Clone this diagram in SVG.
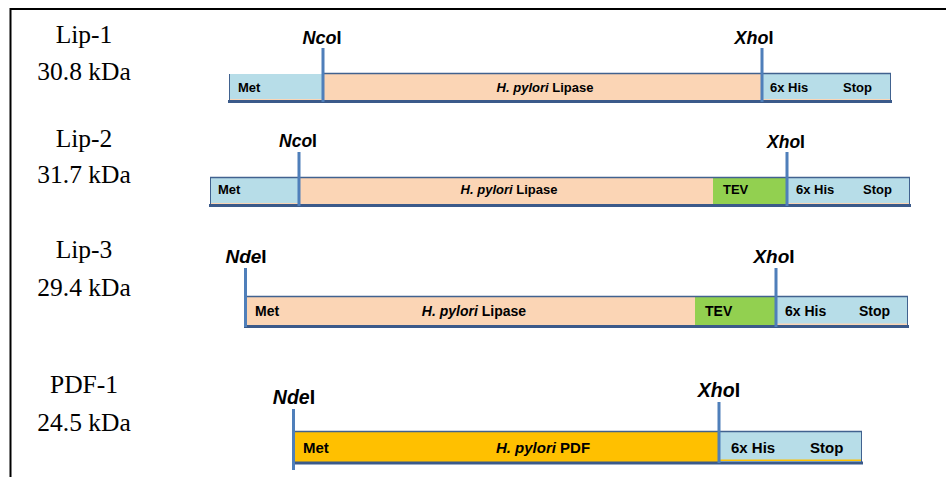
<svg xmlns="http://www.w3.org/2000/svg" width="946" height="477" viewBox="0 0 946 477">
<style>
.lbl{font-family:"Liberation Serif","Times New Roman",serif;font-size:25.5px;fill:#000;text-anchor:middle}
.seg{font-family:"Liberation Sans",Arial,sans-serif;font-weight:bold;fill:#000}
.s12{font-size:13px}
.s14{font-size:14px}
.s15{font-size:15px}
.mid{text-anchor:middle}
.site{font-family:"Liberation Sans",Arial,sans-serif;font-weight:bold;fill:#000;text-anchor:middle}
.it{font-style:italic}
.blue{fill:#b7dde8}
.peach{fill:#fbd5b5}
.tev{fill:#92d050}
.pdf{fill:#ffc000}
.top{stroke:#41628f;stroke-width:1.5;fill:none}
.bot{stroke:#3b5a8a;stroke-width:3;fill:none}
.edge{stroke:#41628f;stroke-width:1;fill:none}
.cut{stroke:#4f7fba;stroke-width:3;fill:none}
</style>
<rect x="0" y="0" width="946" height="477" fill="#fff"/>
<path d="M10.5,477 V9 H946" fill="none" stroke="#000" stroke-width="2"/>

<g id="labels">
<text class="lbl" x="84" y="43">Lip-1</text>
<text class="lbl" x="84" y="80">30.8 kDa</text>
<text class="lbl" x="84" y="147">Lip-2</text>
<text class="lbl" x="84" y="183">31.7 kDa</text>
<text class="lbl" x="84" y="258">Lip-3</text>
<text class="lbl" x="84" y="296">29.4 kDa</text>
<text class="lbl" x="84" y="393">PDF-1</text>
<text class="lbl" x="84" y="431">24.5 kDa</text>
</g>

<g id="lip1">
<rect class="blue" x="229" y="74" width="94" height="28"/>
<rect class="peach" x="323" y="74" width="439" height="28"/>
<rect class="blue" x="762" y="74" width="129" height="28"/>
<rect class="peach" x="229" y="99" width="94" height="1.5"/>
<rect class="peach" x="762" y="99" width="129" height="1.5"/>
<path class="top" d="M323,73.5 H891"/>
<path class="edge" d="M229.5,74 V102 M890.5,74 V102"/>
<path class="bot" d="M228,101.5 H892"/>
<path class="cut" d="M323,48 V102 M762,48 V102"/>
<text class="seg s12" x="238" y="92">Met</text>
<text class="seg s12 mid" x="545" y="92"><tspan class="it">H. pylori</tspan> Lipase</text>
<text class="seg s12" x="770" y="92">6x His</text>
<text class="seg s12" x="843" y="92">Stop</text>
<text class="site" x="322" y="44" font-size="18"><tspan class="it">Nco</tspan>I</text>
<text class="site" x="754" y="44" font-size="18"><tspan class="it">Xho</tspan>I</text>
</g>

<g id="lip2">
<rect class="blue" x="210" y="178" width="89" height="28"/>
<rect class="peach" x="299" y="178" width="414" height="28"/>
<rect class="tev" x="713" y="178" width="74" height="28"/>
<rect class="blue" x="787" y="178" width="123" height="28"/>
<rect class="peach" x="210" y="203" width="89" height="1.5"/>
<rect class="peach" x="787" y="203" width="123" height="1.5"/>
<path class="top" d="M210,177.5 H910"/>
<path class="edge" d="M210.5,178 V206 M909.5,178 V206"/>
<path class="bot" d="M209,205.5 H911"/>
<path class="cut" d="M299,152 V206 M787,152 V206"/>
<text class="seg s12" x="218" y="194">Met</text>
<text class="seg s12 mid" x="509" y="194"><tspan class="it">H. pylori</tspan> Lipase</text>
<text class="seg s12" x="723" y="194">TEV</text>
<text class="seg s12" x="796" y="194">6x His</text>
<text class="seg s12" x="863" y="194">Stop</text>
<text class="site" x="298" y="147" font-size="17.5"><tspan class="it">Nco</tspan>I</text>
<text class="site" x="786" y="148" font-size="17.5"><tspan class="it">Xho</tspan>I</text>
</g>

<g id="lip3">
<rect class="peach" x="245" y="297" width="450" height="30"/>
<rect class="tev" x="695" y="297" width="81" height="30"/>
<rect class="blue" x="776" y="297" width="132" height="30"/>
<rect class="peach" x="776" y="323.5" width="132" height="1.5"/>
<path class="top" d="M245,296.5 H908"/>
<path class="edge" d="M907.5,297 V327"/>
<path class="bot" d="M244,326.5 H909"/>
<path class="cut" d="M245.5,268 V327 M776,268 V327"/>
<text class="seg s14" x="255" y="316">Met</text>
<text class="seg s14 mid" x="474" y="316"><tspan class="it">H. pylori</tspan> Lipase</text>
<text class="seg s14" x="705" y="316">TEV</text>
<text class="seg s14" x="785" y="316">6x His</text>
<text class="seg s14" x="859" y="316">Stop</text>
<text class="site" x="246" y="263" font-size="19"><tspan class="it">Nde</tspan>I</text>
<text class="site" x="774" y="263" font-size="19"><tspan class="it">Xho</tspan>I</text>
</g>

<g id="pdf1">
<rect class="pdf" x="293" y="432" width="426" height="32"/>
<rect class="blue" x="719" y="432" width="143" height="32"/>
<rect class="pdf" x="719" y="459.5" width="143" height="1.5"/>
<path class="top" d="M293,431.5 H862"/>
<path class="edge" d="M861.5,432 V464"/>
<path class="bot" d="M292,463 H863"/>
<path class="cut" d="M293.5,409 V470 M719,402 V463"/>
<text class="seg s15" x="303" y="453">Met</text>
<text class="seg s15 mid" x="543" y="453"><tspan class="it">H. pylori</tspan> PDF</text>
<text class="seg s15" x="731" y="453">6x His</text>
<text class="seg s15" x="810" y="453">Stop</text>
<text class="site" x="294" y="404" font-size="19.5"><tspan class="it">Nde</tspan>I</text>
<text class="site" x="719" y="397" font-size="19.5"><tspan class="it">Xho</tspan>I</text>
</g>
</svg>
